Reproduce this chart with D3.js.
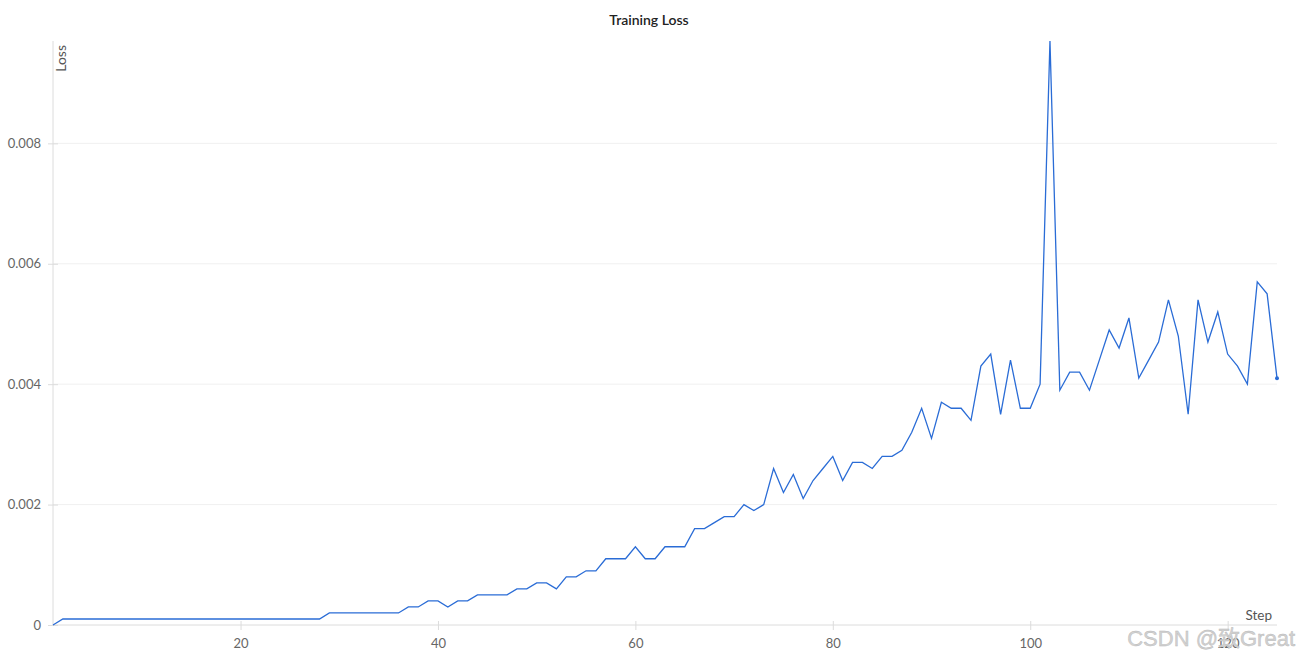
<!DOCTYPE html>
<html>
<head>
<meta charset="utf-8">
<script src="https://cdn.jsdelivr.net/npm/d3@7"></script>
<style>
  html, body { margin: 0; padding: 0; background: #fff; }
  svg { display: block; font-family: "Open Sans", "Noto Sans", Lato, sans-serif; }
</style>
</head>
<body>
<svg id="chart" width="1299" height="660"></svg>
<script>
const steps = d3.range(1, 126);
const loss = [
  0,
  0.0001, 0.0001, 0.0001, 0.0001, 0.0001, 0.0001, 0.0001, 0.0001, 0.0001, 0.0001,
  0.0001, 0.0001, 0.0001, 0.0001, 0.0001, 0.0001, 0.0001, 0.0001, 0.0001, 0.0001,
  0.0001, 0.0001, 0.0001, 0.0001, 0.0001, 0.0001, 0.0001,
  0.0002, 0.0002, 0.0002, 0.0002, 0.0002, 0.0002, 0.0002, 0.0002,
  0.0003, 0.0003, 0.0004, 0.0004, 0.0003, 0.0004, 0.0004,
  0.0005, 0.0005, 0.0005, 0.0005, 0.0006, 0.0006, 0.0007, 0.0007, 0.0006,
  0.0008, 0.0008, 0.0009, 0.0009, 0.0011, 0.0011, 0.0011, 0.0013, 0.0011, 0.0011,
  0.0013, 0.0013, 0.0013, 0.0016, 0.0016, 0.0017, 0.0018, 0.0018,
  0.0020, 0.0019, 0.0020, 0.0026, 0.0022, 0.0025, 0.0021, 0.0024, 0.0026, 0.0028,
  0.0024, 0.0027, 0.0027, 0.0026, 0.0028, 0.0028, 0.0029, 0.0032, 0.0036, 0.0031,
  0.0037, 0.0036, 0.0036, 0.0034, 0.0043, 0.0045, 0.0035, 0.0044, 0.0036, 0.0036,
  0.0040, 0.0097, 0.0039, 0.0042, 0.0042, 0.0039, 0.0044, 0.0049, 0.0046, 0.0051,
  0.0041, 0.0044, 0.0047, 0.0054, 0.0048, 0.0035, 0.0054, 0.0047, 0.0052, 0.0045,
  0.0043, 0.0040, 0.0057, 0.0055, 0.0041
];
const xTicks = [20, 40, 60, 80, 100, 120];
const yTicks = [0, 0.002, 0.004, 0.006, 0.008];
const title = "Training Loss";
const xLabel = "Step";
const yLabel = "Loss";

const svg = d3.select("#chart");
const M = { left: 53, right: 1277, top: 41, bottom: 625 };

const x = d3.scaleLinear().domain([1, 125]).range([M.left, M.right]);
const y = d3.scaleLinear().domain([0, 0.0097]).range([M.bottom, M.top]);

// gridlines
svg.append("g")
  .selectAll("line")
  .data(yTicks.filter(d => d > 0))
  .join("line")
  .attr("x1", M.left).attr("x2", M.right)
  .attr("y1", d => y(d)).attr("y2", d => y(d))
  .attr("stroke", "#f0f0f0").attr("stroke-width", 1);

// y axis
const yAxis = svg.append("g")
  .attr("transform", `translate(${M.left},0)`)
  .call(d3.axisLeft(y).tickValues(yTicks).tickFormat(d => d === 0 ? "0" : d3.format(".3f")(d)).tickSize(5).tickPadding(7));
yAxis.select(".domain").attr("stroke", "#dcdcdc").attr("d", `M0,${M.top}V${M.bottom}`);
yAxis.selectAll(".tick line").attr("stroke", "#dcdcdc").attr("x1", 5);
yAxis.selectAll(".tick text").attr("fill", "#666").style("font-size", "13px").style("font-family", "Lato, 'Open Sans', sans-serif");

// x axis
const xAxis = svg.append("g")
  .attr("transform", `translate(0,${M.bottom})`)
  .call(d3.axisBottom(x).tickValues(xTicks).tickSize(5).tickPadding(9));
xAxis.select(".domain").attr("stroke", "#dcdcdc").attr("d", `M${M.left},0H${M.right}`);
xAxis.selectAll(".tick line").attr("stroke", "#dcdcdc").attr("y1", -4);
xAxis.selectAll(".tick text").attr("fill", "#666").style("font-size", "13px").style("font-family", "Lato, 'Open Sans', sans-serif");

// line
const line = d3.line().x((d, i) => x(steps[i])).y(d => y(d));
svg.append("path")
  .datum(loss)
  .attr("fill", "none")
  .attr("stroke", "#2a6cd6")
  .attr("stroke-width", 1.3)
  .attr("stroke-linejoin", "miter")
  .attr("d", line);

// end dot
svg.append("circle")
  .attr("cx", x(steps[steps.length - 1]))
  .attr("cy", y(loss[loss.length - 1]))
  .attr("r", 2)
  .attr("fill", "#2a6cd6");

// title
svg.append("text")
  .attr("x", 649).attr("y", 25)
  .attr("text-anchor", "middle")
  .attr("fill", "#222")
  .style("font-size", "14px")
  .style("font-weight", "600")
  .style("font-family", "Lato, 'Open Sans', sans-serif")
  .text(title);

// axis labels
svg.append("text")
  .attr("x", 1272).attr("y", 620)
  .attr("text-anchor", "end")
  .attr("fill", "#555")
  .style("font-size", "13.5px")
  .style("font-family", "Lato, 'Open Sans', sans-serif")
  .text(xLabel);

svg.append("text")
  .attr("transform", "translate(66,45) rotate(-90)")
  .attr("text-anchor", "end")
  .attr("fill", "#555")
  .style("font-size", "14px")
  .style("font-family", "Lato, 'Open Sans', sans-serif")
  .text(yLabel);

// watermark
svg.append("text")
  .attr("x", 1295).attr("y", 646)
  .attr("text-anchor", "end")
  .attr("fill", "#d2d2d2")
  .attr("stroke", "#b8b8b8")
  .attr("stroke-width", 0.4)
  .style("font-size", "22px")
  .style("font-family", "'Liberation Sans', 'Noto Sans CJK SC', sans-serif")
  .text("CSDN @致Great");
</script>
</body>
</html>
